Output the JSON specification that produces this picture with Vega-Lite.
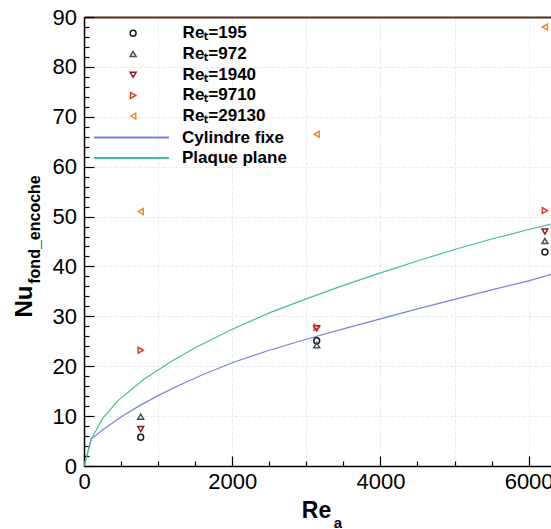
{
  "$schema": "https://vega.github.io/schema/vega-lite/v6.json",
  "width": 467,
  "height": 449,
  "autosize": {"type": "none"},
  "padding": {"left": 84, "top": 17, "right": 0, "bottom": 63},
  "background": "white",
  "config": {"view": {"stroke": null}, "font": "Liberation Sans"},
  "datasets": {
    "pts": [
      {"re": 765, "nu": 5.75, "serie": "Reₜ=195"},
      {"re": 3140, "nu": 25.1, "serie": "Reₜ=195"},
      {"re": 6220, "nu": 42.9, "serie": "Reₜ=195"},
      {"re": 765, "nu": 9.9, "serie": "Reₜ=972"},
      {"re": 3140, "nu": 24.2, "serie": "Reₜ=972"},
      {"re": 6220, "nu": 45.1, "serie": "Reₜ=972"},
      {"re": 765, "nu": 7.4, "serie": "Reₜ=1940"},
      {"re": 3140, "nu": 27.6, "serie": "Reₜ=1940"},
      {"re": 6220, "nu": 47.0, "serie": "Reₜ=1940"},
      {"re": 765, "nu": 23.2, "serie": "Reₜ=9710"},
      {"re": 3140, "nu": 27.8, "serie": "Reₜ=9710"},
      {"re": 6220, "nu": 51.2, "serie": "Reₜ=9710"},
      {"re": 765, "nu": 51.0, "serie": "Reₜ=29130"},
      {"re": 3140, "nu": 66.5, "serie": "Reₜ=29130"},
      {"re": 6220, "nu": 88.0, "serie": "Reₜ=29130"}
    ],
    "lines": [
      {"re": 0, "nu": 0, "serie": "Cylindre fixe"},
      {"re": 98, "nu": 5.4, "serie": "Cylindre fixe"},
      {"re": 250, "nu": 7.2, "serie": "Cylindre fixe"},
      {"re": 500, "nu": 9.8, "serie": "Cylindre fixe"},
      {"re": 750, "nu": 12.1, "serie": "Cylindre fixe"},
      {"re": 1000, "nu": 14.1, "serie": "Cylindre fixe"},
      {"re": 1300, "nu": 16.3, "serie": "Cylindre fixe"},
      {"re": 1600, "nu": 18.3, "serie": "Cylindre fixe"},
      {"re": 2000, "nu": 20.7, "serie": "Cylindre fixe"},
      {"re": 2500, "nu": 23.2, "serie": "Cylindre fixe"},
      {"re": 3000, "nu": 25.4, "serie": "Cylindre fixe"},
      {"re": 3500, "nu": 27.5, "serie": "Cylindre fixe"},
      {"re": 4000, "nu": 29.5, "serie": "Cylindre fixe"},
      {"re": 4500, "nu": 31.5, "serie": "Cylindre fixe"},
      {"re": 5000, "nu": 33.4, "serie": "Cylindre fixe"},
      {"re": 5500, "nu": 35.3, "serie": "Cylindre fixe"},
      {"re": 6000, "nu": 37.1, "serie": "Cylindre fixe"},
      {"re": 6302, "nu": 38.4, "serie": "Cylindre fixe"},
      {"re": 0, "nu": 0, "serie": "Plaque plane"},
      {"re": 98, "nu": 5.4, "serie": "Plaque plane"},
      {"re": 250, "nu": 9.5, "serie": "Plaque plane"},
      {"re": 459, "nu": 13.1, "serie": "Plaque plane"},
      {"re": 800, "nu": 17.3, "serie": "Plaque plane"},
      {"re": 1160, "nu": 20.8, "serie": "Plaque plane"},
      {"re": 1500, "nu": 23.7, "serie": "Plaque plane"},
      {"re": 2000, "nu": 27.4, "serie": "Plaque plane"},
      {"re": 2500, "nu": 30.7, "serie": "Plaque plane"},
      {"re": 3000, "nu": 33.5, "serie": "Plaque plane"},
      {"re": 3500, "nu": 36.2, "serie": "Plaque plane"},
      {"re": 4000, "nu": 38.7, "serie": "Plaque plane"},
      {"re": 4500, "nu": 41.1, "serie": "Plaque plane"},
      {"re": 5000, "nu": 43.4, "serie": "Plaque plane"},
      {"re": 5500, "nu": 45.5, "serie": "Plaque plane"},
      {"re": 6000, "nu": 47.4, "serie": "Plaque plane"},
      {"re": 6302, "nu": 48.5, "serie": "Plaque plane"}
    ]
  },
  "layer": [
    {
      "data": {"name": "lines"},
      "transform": [{"filter": "datum.serie == 'Cylindre fixe'"}],
      "mark": {"type": "line", "strokeWidth": 1.2, "clip": true},
      "encoding": {
        "x": {"field": "re", "type": "quantitative", "scale": {"domain": [0, 6302], "nice": false, "zero": false},
          "axis": {"orient": "bottom", "values": [1000, 2000, 3000, 4000, 5000, 6000], "grid": true, "gridColor": "#e4edf5", "gridDash": [4, 2], "gridWidth": 1, "ticks": false, "labels": false, "domain": false, "title": null}},
        "y": {"field": "nu", "type": "quantitative", "scale": {"domain": [0, 90], "nice": false},
          "axis": {"orient": "left", "values": [10, 20, 30, 40, 50, 60, 70, 80], "grid": true, "gridColor": "#e4edf5", "gridDash": [4, 2], "gridWidth": 1, "ticks": false, "labels": false, "domain": false, "title": null}},
        "stroke": {"field": "serie", "type": "nominal",
          "scale": {"domain": ["Cylindre fixe"], "range": ["#7a80dd"]},
          "legend": {"orient": "none", "legendX": 9, "legendY": 82, "title": null, "padding": 0, "symbolType": "stroke", "symbolSize": 5625, "symbolStrokeWidth": 2, "labelOffset": 12, "labelFont": "Liberation Sans", "labelFontSize": 17, "labelFontWeight": "bold", "labelColor": "#000000"}}
      }
    },
    {
      "data": {"name": "lines"},
      "transform": [{"filter": "datum.serie == 'Plaque plane'"}],
      "mark": {"type": "line", "strokeWidth": 1.2, "clip": true},
      "encoding": {
        "x": {"field": "re", "type": "quantitative", "scale": {"domain": [0, 6302], "nice": false, "zero": false}, "axis": null},
        "y": {"field": "nu", "type": "quantitative", "scale": {"domain": [0, 90], "nice": false}, "axis": null},
        "stroke": {"field": "serie", "type": "nominal",
          "scale": {"domain": ["Plaque plane"], "range": ["#42c28a"]},
          "legend": {"orient": "none", "legendX": 9, "legendY": 102.6, "title": null, "padding": 0, "symbolType": "stroke", "symbolSize": 5625, "symbolStrokeWidth": 2, "labelOffset": 12, "labelFont": "Liberation Sans", "labelFontSize": 17, "labelFontWeight": "bold", "labelColor": "#000000"}}
      }
    },
    {
      "data": {"name": "pts"},
      "mark": {"type": "point", "filled": false, "size": 35, "strokeWidth": 1.5, "opacity": 1},
      "encoding": {
        "x": {"field": "re", "type": "quantitative", "scale": {"domain": [0, 6302], "nice": false, "zero": false},
          "axis": {"orient": "bottom", "values": [0, 2000, 4000, 6000], "format": "d", "grid": false, "tickSize": -10, "tickColor": "#000000", "tickWidth": 1.2, "domainColor": "#000000", "domainWidth": 1.5, "labelPadding": 15, "labelFont": "Liberation Sans", "labelFontSize": 22, "labelColor": "#000000", "labelFlush": false, "labelOverlap": false,
            "title": "Re", "titleFont": "Liberation Sans", "titleFontSize": 23, "titleFontWeight": "bold", "titleColor": "#000000", "titleX": 232, "titleY": 51.3, "titleAlign": "center", "titleBaseline": "alphabetic", "titleAnchor": null}},
        "y": {"field": "nu", "type": "quantitative", "scale": {"domain": [0, 90], "nice": false},
          "axis": {"orient": "left", "values": [0, 10, 20, 30, 40, 50, 60, 70, 80, 90], "grid": false, "tickSize": -10, "tickColor": "#000000", "tickWidth": 1.2, "domainColor": "#000000", "domainWidth": 1.5, "labelPadding": 17.5, "labelFont": "Liberation Sans", "labelFontSize": 22, "labelColor": "#000000", "labelFlush": false, "labelOverlap": false,
            "title": "Nu", "titleFont": "Liberation Sans", "titleFontSize": 24, "titleFontWeight": "bold", "titleColor": "#000000", "titleAngle": 270, "titleX": -52.3, "titleY": 284, "titleAlign": "center", "titleBaseline": "alphabetic", "titleAnchor": null}},
        "color": {"field": "serie", "type": "nominal",
          "scale": {"domain": ["Reₜ=195", "Reₜ=972", "Reₜ=1940", "Reₜ=9710", "Reₜ=29130"], "range": ["#1a1a1a", "#45525c", "#8a1c1c", "#e03c28", "#f0882c"]},
          "legend": {"orient": "none", "legendX": 40.6, "legendY": 7.8, "title": null, "padding": 0, "symbolSize": 35, "symbolStrokeWidth": 1.5, "labelOffset": 41, "rowPadding": 2.7, "labelFont": "Liberation Sans", "labelFontSize": 17, "labelFontWeight": "bold", "labelColor": "#000000"}},
        "shape": {"field": "serie", "type": "nominal",
          "scale": {"domain": ["Reₜ=195", "Reₜ=972", "Reₜ=1940", "Reₜ=9710", "Reₜ=29130"], "range": ["circle", "triangle-up", "triangle-down", "triangle-right", "triangle-left"]},
          "legend": {"orient": "none", "legendX": 40.6, "legendY": 7.8, "title": null, "padding": 0, "symbolSize": 35, "symbolStrokeWidth": 1.5, "labelOffset": 41, "rowPadding": 2.7, "labelFont": "Liberation Sans", "labelFontSize": 17, "labelFontWeight": "bold", "labelColor": "#000000"}}
      }
    },
    {
      "data": {"name": "pts"},
      "mark": {"type": "point", "opacity": 0},
      "encoding": {
        "x": {"field": "re", "type": "quantitative", "scale": {"domain": [0, 6302], "nice": false, "zero": false},
          "axis": {"orient": "bottom", "values": [500, 1000, 1500, 2500, 3000, 3500, 4500, 5000, 5500], "grid": false, "tickSize": -5, "tickColor": "#000000", "tickWidth": 1.2, "labels": false, "domain": false, "title": "a", "titleFont": "Liberation Sans", "titleFontSize": 15, "titleFontWeight": "bold", "titleColor": "#000000", "titleX": 253.5, "titleY": 61, "titleAlign": "center", "titleBaseline": "alphabetic", "titleAnchor": null}},
        "y": {"field": "nu", "type": "quantitative", "scale": {"domain": [0, 90], "nice": false},
          "axis": {"orient": "left", "values": [2, 4, 6, 8, 12, 14, 16, 18, 22, 24, 26, 28, 32, 34, 36, 38, 42, 44, 46, 48, 52, 54, 56, 58, 62, 64, 66, 68, 72, 74, 76, 78, 82, 84, 86, 88], "grid": false, "tickSize": -5, "tickColor": "#000000", "tickWidth": 1.2, "labels": false, "domain": false, "title": "fond_encoche", "titleFont": "Liberation Sans", "titleFontSize": 16, "titleFontWeight": "bold", "titleColor": "#000000", "titleAngle": 270, "titleX": -44.5, "titleY": 212, "titleAlign": "center", "titleBaseline": "alphabetic", "titleAnchor": null}}
      }
    },
    {
      "data": {"name": "pts"},
      "mark": {"type": "point", "opacity": 0},
      "encoding": {
        "x": {"field": "re", "type": "quantitative", "scale": {"domain": [0, 6302], "nice": false, "zero": false},
          "axis": {"orient": "top", "ticks": false, "labels": false, "grid": false, "domain": true, "domainColor": "#5a2a1c", "domainWidth": 2, "title": null}},
        "y": {"field": "nu", "type": "quantitative", "scale": {"domain": [0, 90], "nice": false}, "axis": null}
      }
    }
  ],
  "resolve": {"axis": {"x": "independent", "y": "independent"}, "scale": {"stroke": "independent"}}
}
